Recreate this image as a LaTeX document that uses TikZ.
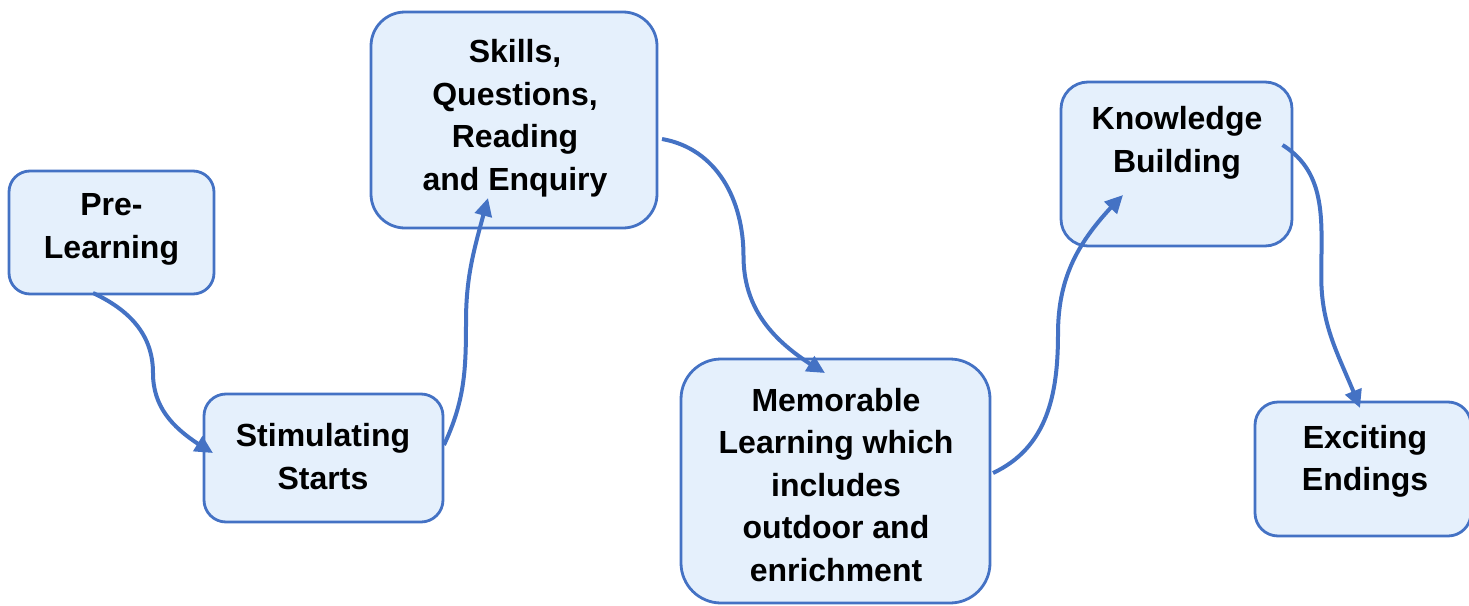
\documentclass[tikz,border=0pt]{standalone}
\usepackage{fontspec}
\setmainfont{Liberation Sans}
\usetikzlibrary{arrows.meta,bending,calc}
\definecolor{edgeblue}{HTML}{4472C4}
\definecolor{boxfill}{HTML}{E5F0FC}
\begin{document}
\begin{tikzpicture}[x=1pt,y=1pt,
  box/.style={draw=edgeblue, line width=2.8pt, fill=boxfill, rectangle,
    inner sep=0pt, outer sep=0pt},
  lbl/.style={font=\fontsize{32}{42.5}\selectfont\bfseries, align=center,
    inner sep=0pt, text=black},
  conn/.style={draw=edgeblue, line width=4pt,
    -{Triangle[length=18pt,width=17pt]}}]
\useasboundingbox (0,0) rectangle (1469,-605);
\begin{scope}
\clip (0,0) rectangle (1469,-605);

% process boxes
\node[box, rounded corners=21pt, minimum width=205pt, minimum height=123pt] (pre) at (111.5,-232.5) {};
\node[box, rounded corners=22pt, minimum width=239pt, minimum height=128pt] (stim) at (323.5,-458) {};
\node[box, rounded corners=34pt, minimum width=286pt, minimum height=216pt] (skills) at (514,-120) {};
\node[box, rounded corners=40pt, minimum width=309pt, minimum height=244pt] (mem) at (835.5,-481) {};
\node[box, rounded corners=27pt, minimum width=231pt, minimum height=164pt] (know) at (1176.5,-164) {};
\node[box, rounded corners=23pt, minimum width=216pt, minimum height=134pt] (exc) at (1363,-469) {};

% box texts
\node[lbl] (preT) at (111.5,-229.5) {Pre-\\Learning};
\node[lbl] (stimT) at (323,-456.5) {Stimulating\\Starts};
\node[lbl] (skillsT) at (515,-118) {Skills,\\Questions,\\Reading\\and Enquiry};
\node[lbl] (memT) at (836,-485) {Memorable\\Learning which\\includes\\outdoor and\\enrichment};
\node[lbl] (knowT) at (1177,-143) {Knowledge\\Building};
\node[lbl] (excT) at (1365,-461.5) {Exciting\\Endings};

% connector end points on the boxes
\coordinate (a1) at ([shift={(-18.5,1)}]pre.south);
\coordinate (b1) at ([shift={(9,5)}]stim.west);
\coordinate (a2) at ([shift={(1,13)}]stim.east);
\coordinate (b2) at ([shift={(-26,30)}]skills.south);
\coordinate (a3) at ([shift={(5,-19)}]skills.east);
\coordinate (b3) at ([shift={(-10.5,-14)}]mem.north);
\coordinate (a4) at ([shift={(3,8)}]mem.east);
\coordinate (b4) at ([shift={(-53.5,51)}]know.south);
\coordinate (a5) at ([shift={(-9.5,19)}]know.east);
\coordinate (b5) at ([shift={(-3,-6)}]exc.north);

% curved connectors
\draw[conn] (a1) to[out=-25,in=90] ($(a1)!0.5!(b1)$) to[out=-90,in=150] (b1);
\draw[conn] (a2) to[out=65,in=-90] ($(a2)!0.5!(b2)$) to[out=90,in=-105] (b2);
\draw[conn] (a3) to[out=-10,in=90] ($(a3)!0.5!(b3)$) to[out=-90,in=150] (b3);
\draw[conn] (a4) to[out=25,in=-90] ($(a4)!0.5!(b4)$) to[out=90,in=-135] (b4);
\draw[conn] (a5) to[out=-32,in=90] ($(a5)!0.5!(b5)$) to[out=-90,in=111] (b5);
\end{scope}
\end{tikzpicture}
\end{document}
